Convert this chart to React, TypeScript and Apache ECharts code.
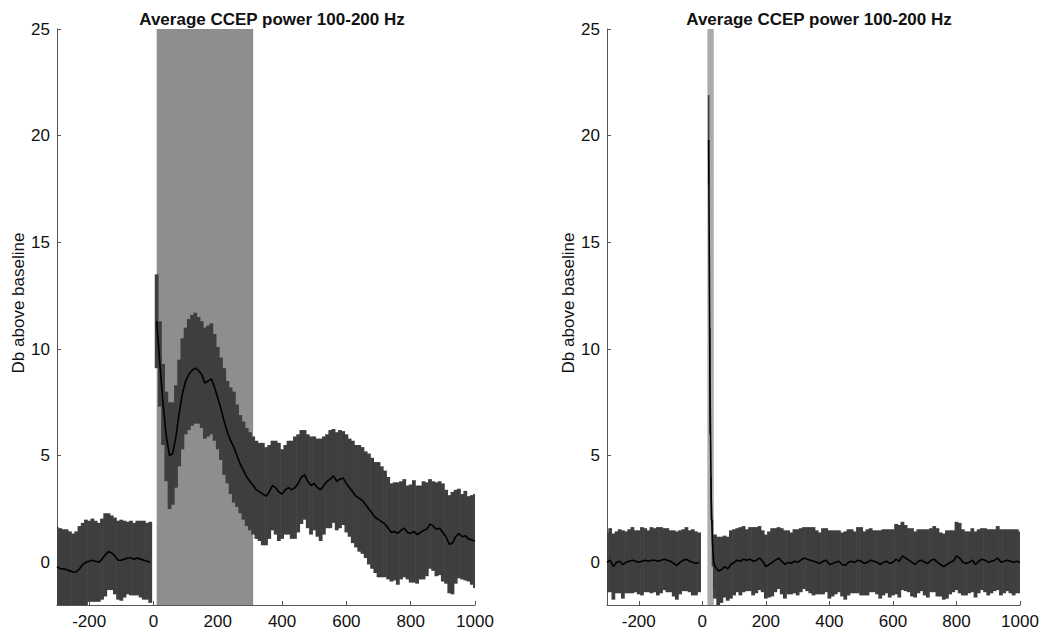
import React, { useEffect, useRef } from "react";
import * as echarts from "echarts";

const TITLE = "Average CCEP power 100-200 Hz";
const Y_LABEL = "Db above baseline";
const xTicks = [-200, 0, 200, 400, 600, 800, 1000];
const yTicks = [0, 5, 10, 15, 20, 25];
const X_MIN = -300;
const X_MAX = 1000;
const Y_MIN = -2;
const Y_MAX = 25;
const STEP = 10;

// Left panel: pre-stimulus segment (-300 .. -10 ms)
const leftPreStart = -300;
const leftPreMean = [
  -0.2, -0.3, -0.3, -0.35, -0.4, -0.45, -0.45, -0.3, -0.1, 0.0,
  0.05, 0.1, 0.05, 0.0, 0.15, 0.35, 0.5, 0.45, 0.3, 0.1,
  0.1, 0.15, 0.2, 0.2, 0.15, 0.2, 0.15, 0.1, 0.05, 0.0,
];
const leftPreErr = [
  1.85, 1.9, 1.85, 1.9, 1.85, 1.8, 1.9, 2.0, 1.95, 2.0,
  1.9, 1.95, 1.9, 1.85, 1.9, 1.95, 1.8, 1.75, 1.8, 1.85,
  1.9, 1.8, 1.7, 1.75, 1.7, 1.75, 1.8, 1.85, 1.8, 1.9,
];
// Left panel: post-stimulus segment (10 .. 1000 ms)
const leftPostStart = 10;
const leftPostMean = [
  11.3, 9.3, 7.4, 5.9, 5.0, 5.1, 5.9, 7.0, 7.9, 8.5,
  8.8, 9.0, 9.1, 9.0, 8.8, 8.4, 8.5, 8.6, 8.2, 7.7,
  7.2, 6.6, 6.1, 5.7, 5.4, 5.0, 4.6, 4.3, 4.0, 3.8,
  3.6, 3.4, 3.3, 3.2, 3.1, 3.3, 3.6, 3.5, 3.3, 3.2,
  3.4, 3.5, 3.4, 3.5, 3.7, 4.0, 4.1, 3.8, 3.6, 3.7,
  3.5, 3.4, 3.6, 3.8, 3.9, 4.05, 3.8, 3.9, 3.95, 3.7,
  3.5, 3.3, 3.1, 3.0, 2.9, 2.7, 2.5, 2.3, 2.1, 2.0,
  1.9, 1.8, 1.6, 1.4, 1.45, 1.35, 1.5, 1.6, 1.4, 1.35,
  1.45, 1.3, 1.4, 1.5, 1.55, 1.8, 1.7, 1.55, 1.6, 1.4,
  1.2, 0.85, 0.9, 1.2, 1.35, 1.2, 1.25, 1.1, 1.05, 1.0,
];
const leftPostErr = [
  2.2, 2.0, 1.9, 2.1, 2.5, 2.4, 2.4, 2.5, 2.6, 2.5,
  2.6, 2.6, 2.6, 2.5, 2.5, 2.6, 2.6, 2.6, 2.5, 2.4,
  2.4, 2.5, 2.4, 2.5, 2.6, 2.4, 2.3, 2.3, 2.3, 2.3,
  2.3, 2.3, 2.3, 2.4, 2.3, 2.2, 2.1, 2.2, 2.3, 2.1,
  2.1, 2.2, 2.3, 2.4, 2.3, 2.2, 2.1, 2.2, 2.3, 2.2,
  2.3, 2.4, 2.3, 2.2, 2.3, 2.2, 2.3, 2.3, 2.2, 2.3,
  2.3, 2.4, 2.4, 2.5, 2.5, 2.5, 2.6, 2.6, 2.6, 2.7,
  2.6, 2.5, 2.4, 2.3, 2.3, 2.4, 2.3, 2.3, 2.2, 2.3,
  2.4, 2.3, 2.2, 2.3, 2.2, 2.1, 2.1, 2.2, 2.2, 2.3,
  2.2, 2.3, 2.4, 2.2, 2.1, 2.0, 2.1, 2.0, 2.1, 2.2,
];
const leftShade = [10, 310];

// Right panel
const rightPreStart = -300;
const rightPreMean = [
  0.0, 0.1, -0.2, 0.0, 0.05, -0.1, 0.0, 0.05, 0.1, 0.05,
  0.0, 0.05, 0.1, 0.05, 0.1, 0.1, 0.05, 0.1, 0.15, 0.1,
  0.05, -0.05, -0.15, 0.0, 0.1, 0.15, 0.05, 0.0, -0.05, 0.0,
];
const rightPreErr = [
  1.4, 1.5, 1.55, 1.45, 1.5, 1.6, 1.45, 1.5, 1.55, 1.45,
  1.5, 1.6, 1.5, 1.45, 1.55, 1.5, 1.6, 1.55, 1.45, 1.5,
  1.45, 1.55, 1.6, 1.5, 1.45, 1.5, 1.45, 1.55, 1.5, 1.4,
];
const rightSpikeTime = [20, 24, 28, 32, 36];
const rightSpikeMean = [19.8, 8.5, 3.0, 0.9, 0.0];
const rightSpikeErr = [2.1, 2.5, 1.0, 1.1, 1.3];
const rightPostStart = 40;
const rightPostMean = [
  -0.2, -0.4, -0.35, -0.2, -0.3, -0.1, 0.0, 0.1, 0.05, 0.15,
  0.1, 0.15, 0.05, 0.1, 0.2, 0.05, -0.2, -0.1, 0.0, 0.1,
  0.2, 0.05, -0.1, 0.0, -0.05, 0.05, 0.0, 0.1, 0.2, 0.15,
  0.1, 0.05, 0.0, -0.05, 0.05, 0.1, -0.1, -0.05, 0.0, 0.05,
  -0.1, -0.15, 0.0, 0.05, 0.0, 0.1, 0.05, -0.05, 0.0, 0.1,
  0.05, 0.0, -0.1, 0.0, 0.05, -0.05, 0.0, 0.15, 0.05, 0.3,
  0.2, 0.1, 0.0, -0.1, 0.05, 0.1, 0.0, -0.05, 0.1, 0.15,
  0.0, -0.1, -0.2, -0.1, 0.0, 0.05, 0.3, 0.2, 0.0, -0.05,
  0.0, 0.1, -0.1, 0.05, 0.15, 0.1, 0.0, 0.05, 0.1, 0.2,
  0.0, 0.05, 0.1, 0.05, 0.0, 0.05, 0.0,
];
const rightPostErr = [
  1.5, 1.6, 1.55, 1.45, 1.5, 1.6, 1.55, 1.5, 1.6, 1.55,
  1.45, 1.5, 1.6, 1.55, 1.5, 1.45, 1.5, 1.55, 1.6, 1.5,
  1.45, 1.55, 1.6, 1.5, 1.45, 1.5, 1.55, 1.5, 1.45, 1.5,
  1.55, 1.6, 1.5, 1.45, 1.55, 1.5, 1.6, 1.55, 1.5, 1.45,
  1.5, 1.6, 1.55, 1.5, 1.45, 1.55, 1.6, 1.5, 1.55, 1.5,
  1.45, 1.5, 1.6, 1.55, 1.5, 1.6, 1.55, 1.65, 1.7, 1.6,
  1.55, 1.5, 1.6, 1.55, 1.5, 1.45, 1.55, 1.6, 1.5, 1.55,
  1.6, 1.5, 1.55, 1.6, 1.5, 1.45, 1.6, 1.65, 1.55, 1.5,
  1.45, 1.5, 1.55, 1.5, 1.45, 1.5, 1.55, 1.5, 1.45, 1.5,
  1.55, 1.5, 1.45, 1.5, 1.55, 1.5, 1.45,
];
const rightShade = [16, 36];

const FONT = "'Liberation Sans', Arial, Helvetica, sans-serif";
const BAND = "#3e3e3e";
const AXIS = "#555";

type Seg = { times: number[]; mean: number[]; err: number[]; width: number };

const seq = (start: number, n: number) => Array.from({ length: n }, (_, i) => start + i * STEP);

function bandSeries(grid: number, segs: Seg[]) {
  const data: number[][] = [];
  segs.forEach((s) =>
    s.times.forEach((t, i) => data.push([t, s.mean[i] - s.err[i], s.mean[i] + s.err[i], s.width]))
  );
  return {
    type: "custom",
    xAxisIndex: grid,
    yAxisIndex: grid,
    z: 2,
    silent: true,
    data,
    renderItem: (params: any, api: any) => {
      const t = api.value(0), lo = api.value(1), hi = api.value(2), w = api.value(3);
      const p1 = api.coord([t - w / 2, hi]);
      const p2 = api.coord([t + w / 2, lo]);
      const cs = params.coordSys;
      const rect = echarts.graphic.clipRectByRect(
        { x: p1[0] - 0.3, y: p1[1], width: p2[0] - p1[0] + 0.6, height: p2[1] - p1[1] },
        { x: cs.x, y: cs.y, width: cs.width, height: cs.height }
      );
      return rect ? { type: "rect", shape: rect, style: { fill: BAND } } : null;
    },
  };
}

function shadeSeries(grid: number, range: number[], color: string) {
  return {
    type: "custom",
    xAxisIndex: grid,
    yAxisIndex: grid,
    z: 1,
    silent: true,
    data: [range],
    renderItem: (params: any, api: any) => {
      const a = api.coord([api.value(0), 0]);
      const b = api.coord([api.value(1), 0]);
      const cs = params.coordSys;
      return {
        type: "rect",
        shape: { x: a[0], y: cs.y, width: b[0] - a[0], height: cs.height },
        style: { fill: color },
      };
    },
  };
}

function lineSeries(grid: number, times: number[], mean: number[]) {
  return {
    type: "line",
    xAxisIndex: grid,
    yAxisIndex: grid,
    z: 3,
    silent: true,
    showSymbol: false,
    data: times.map((t, i) => [t, mean[i]]),
    lineStyle: { color: "#000", width: 1.6 },
  };
}

function xAxis(grid: number) {
  return {
    type: "value",
    gridIndex: grid,
    min: X_MIN,
    max: X_MAX,
    axisLine: { show: true, onZero: false, lineStyle: { color: AXIS, width: 1 } },
    axisTick: { show: true, inside: true, length: 4, customValues: xTicks, lineStyle: { color: AXIS } },
    axisLabel: {
      customValues: xTicks,
      formatter: (v: number) => String(v),
      color: "#111",
      fontSize: 17,
      fontFamily: FONT,
      margin: 8,
    },
    splitLine: { show: false },
  };
}

function yAxis(grid: number) {
  return {
    type: "value",
    gridIndex: grid,
    min: Y_MIN,
    max: Y_MAX,
    axisLine: { show: true, onZero: false, lineStyle: { color: AXIS, width: 1 } },
    axisTick: { show: true, inside: true, length: 4, customValues: yTicks, lineStyle: { color: AXIS } },
    axisLabel: {
      customValues: yTicks,
      formatter: (v: number) => String(v),
      color: "#111",
      fontSize: 17,
      fontFamily: FONT,
      margin: 7,
    },
    splitLine: { show: false },
  };
}

const titleStyle = { fontSize: 17, fontWeight: "bold", fontFamily: FONT, color: "#111" };
const ylabelStyle = { text: Y_LABEL, fontSize: 17, fontFamily: FONT, fill: "#111", align: "center", verticalAlign: "middle" };

export default function App() {
  const ref = useRef<HTMLDivElement>(null);
  useEffect(() => {
    if (!ref.current) return;
    const chart = echarts.init(ref.current, undefined, { renderer: "svg" });
    const leftPreT = seq(leftPreStart, leftPreMean.length);
    const leftPostT = seq(leftPostStart, leftPostMean.length);
    const rightPreT = seq(rightPreStart, rightPreMean.length);
    const rightPostT = seq(rightPostStart, rightPostMean.length);
    chart.setOption({
      animation: false,
      backgroundColor: "#fff",
      title: [
        { text: TITLE, left: 267, top: 6, textAlign: "center", textStyle: titleStyle },
        { text: TITLE, left: 814, top: 6, textAlign: "center", textStyle: titleStyle },
      ],
      graphic: [
        { type: "text", x: 18, y: 303, rotation: Math.PI / 2, style: ylabelStyle },
        { type: "text", x: 568, y: 303, rotation: Math.PI / 2, style: ylabelStyle },
      ],
      grid: [
        { left: 57, top: 29, width: 418, height: 576 },
        { left: 607, top: 29, width: 413, height: 576 },
      ],
      xAxis: [xAxis(0), xAxis(1)],
      yAxis: [yAxis(0), yAxis(1)],
      series: [
        shadeSeries(0, leftShade, "#8e8e8e"),
        bandSeries(0, [
          { times: leftPreT, mean: leftPreMean, err: leftPreErr, width: STEP },
          { times: leftPostT, mean: leftPostMean, err: leftPostErr, width: STEP },
        ]),
        lineSeries(0, leftPreT, leftPreMean),
        lineSeries(0, leftPostT, leftPostMean),
        shadeSeries(1, rightShade, "#ababab"),
        bandSeries(1, [
          { times: rightPreT, mean: rightPreMean, err: rightPreErr, width: STEP },
          { times: rightSpikeTime, mean: rightSpikeMean, err: rightSpikeErr, width: 3 },
          { times: rightPostT, mean: rightPostMean, err: rightPostErr, width: STEP },
        ]),
        lineSeries(1, rightPreT, rightPreMean),
        lineSeries(1, rightSpikeTime.concat(rightPostT), rightSpikeMean.concat(rightPostMean)),
      ],
    });
    return () => chart.dispose();
  }, []);
  return <div ref={ref} style={{ position: "fixed", left: 0, top: 0, width: 1049, height: 630, background: "#fff" }} />;
}
